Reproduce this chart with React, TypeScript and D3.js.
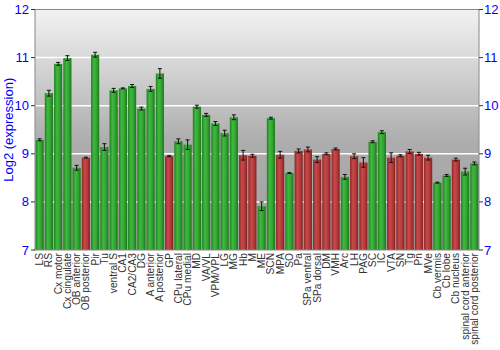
import React from "react";
import * as d3 from "d3";

const categories = [
  "LS", "RS", "Cx motor", "Cx cingulate", "OB anterior", "OB posterior", "Pir", "Tu",
  "ventral S", "CA1", "CA2/CA3", "DG", "A anterior", "A posterior", "GP", "CPu lateral",
  "CPu medial", "MD", "VA/VL", "VPM/VPL", "LG", "MG", "Hb", "M", "ME", "SCN", "MPA", "SO",
  "Pa", "SPa ventral", "SPa dorsal", "DM", "VMH", "Arc", "LH", "PAG", "SC", "IC", "VTA",
  "SN", "Tg", "Pn", "MVe", "Cb vermis", "Cb lobe", "Cb nucleus", "spinal cord anterior",
  "spinal cord posterior",
];
const values = [
  9.29, 10.26, 10.87, 10.99, 8.71, 8.92, 11.06, 9.14,
  10.32, 10.36, 10.41, 9.94, 10.35, 10.67, 8.95, 9.26,
  9.19, 9.98, 9.81, 9.63, 9.43, 9.76, 8.97, 8.96, 7.91, 9.74, 8.98, 8.60,
  9.06, 9.09, 8.88, 9.00, 9.10, 8.52, 8.95, 8.82, 9.25, 9.45, 8.92,
  8.96, 9.05, 9.00, 8.92, 8.40, 8.55, 8.88, 8.63,
  8.80,
];
const errors = [
  0.02, 0.06, 0.03, 0.05, 0.05, 0.01, 0.05, 0.07,
  0.04, 0.01, 0.03, 0.03, 0.05, 0.1, 0.01, 0.05,
  0.1, 0.03, 0.03, 0.04, 0.06, 0.05, 0.1, 0.03, 0.09, 0.02, 0.07, 0.01,
  0.04, 0.05, 0.06, 0.02, 0.02, 0.05, 0.05, 0.1, 0.02, 0.03, 0.1,
  0.02, 0.04, 0.03, 0.05, 0.01, 0.02, 0.03, 0.07,
  0.03,
];
// g = green, r = red
const groups = [
  "g", "g", "g", "g", "g", "r", "g", "g",
  "g", "g", "g", "g", "g", "g", "r", "g",
  "g", "g", "g", "g", "g", "g", "r", "r", "g", "g", "r", "g",
  "r", "r", "r", "r", "r", "g", "r", "r", "g", "g", "r",
  "r", "r", "r", "r", "g", "g", "r", "g",
  "g",
];
const yTicks = [7, 8, 9, 10, 11, 12];
const yLabel = "Log2 (expression)";

const W = 500, H = 350;
const M = { left: 35, right: 21, top: 9.5, bottom: 100 };

export default function App() {
  const x = d3.scaleBand<string>().domain(categories).range([M.left, W - M.right]).paddingInner(0.12).paddingOuter(0.06);
  const y = d3.scaleLinear().domain([7, 12]).range([H - M.bottom, M.top]);
  const font = "Liberation Sans, Arial, sans-serif";
  const x0 = M.left, x1 = W - M.right, y0 = y(7), y1 = y(12);
  return (
    <svg width={W} height={H} style={{ position: "absolute", left: 0, top: 0 }} fontFamily={font}>
      <defs>
        <linearGradient id="bg" x1="0" y1="0" x2="0" y2="1">
          <stop offset="0" stopColor="#f2f2f2" />
          <stop offset="0.55" stopColor="#adadad" />
          <stop offset="1" stopColor="#a0a0a0" />
        </linearGradient>
        <linearGradient id="gG" x1="0" y1="0" x2="1" y2="0">
          <stop offset="0" stopColor="#1d821d" />
          <stop offset="0.35" stopColor="#42b842" />
          <stop offset="0.7" stopColor="#30a230" />
          <stop offset="1" stopColor="#1a741a" />
        </linearGradient>
        <linearGradient id="gR" x1="0" y1="0" x2="1" y2="0">
          <stop offset="0" stopColor="#8c2626" />
          <stop offset="0.35" stopColor="#c84a4a" />
          <stop offset="0.7" stopColor="#b33939" />
          <stop offset="1" stopColor="#822020" />
        </linearGradient>
      </defs>
      <rect x={x0} y={y1} width={x1 - x0} height={y0 - y1} fill="url(#bg)" />
      {yTicks.slice(1, -1).map((t) => (
        <line key={t} x1={x0} x2={x1} y1={y(t)} y2={y(t)} stroke="#ffffff" strokeWidth={1.5} />
      ))}
      {categories.map((c, i) => {
        const bx = x(c)!;
        const bw = x.bandwidth();
        const cx = bx + bw / 2;
        const v = values[i], e = errors[i];
        return (
          <g key={c}>
            <rect x={bx} y={y(v)} width={bw} height={y0 - y(v)} fill={groups[i] === "g" ? "url(#gG)" : "url(#gR)"} />
            <line x1={cx} x2={cx} y1={y(v + e)} y2={y(v - e)} stroke="#111" strokeWidth={1} />
            <line x1={cx - 2} x2={cx + 2} y1={y(v + e)} y2={y(v + e)} stroke="#111" strokeWidth={1} />
            <line x1={cx - 2} x2={cx + 2} y1={y(v - e)} y2={y(v - e)} stroke="#111" strokeWidth={1} />
          </g>
        );
      })}
      <rect x={x0} y={y1} width={x1 - x0} height={y0 - y1} fill="none" stroke="#888" strokeWidth={1} />
      {yTicks.map((t) => (
        <g key={t}>
          <line x1={x0 - 4} x2={x0} y1={y(t)} y2={y(t)} stroke="#333" />
          <text x={x0 - 6} y={y(t)} dy="0.35em" textAnchor="end" fill="#0000ff" fontSize={13}>{t}</text>
          <line x1={x1} x2={x1 + 4} y1={y(t)} y2={y(t)} stroke="#333" />
          <text x={x1 + 5} y={y(t)} dy="0.35em" textAnchor="start" fill="#0000ff" fontSize={13}>{t}</text>
        </g>
      ))}
      <text transform={`translate(13,${(y0 + y1) / 2}) rotate(-90)`} textAnchor="middle" fill="#0000ff" fontSize={13}>{yLabel}</text>
      {categories.map((c) => {
        const cx = x(c)! + x.bandwidth() / 2;
        return (
          <text key={c} transform={`translate(${cx},${y0 + 3}) rotate(-90)`} dy="0.35em" textAnchor="end" fill="#333" fontSize={10.2}>{c}</text>
        );
      })}
    </svg>
  );
}
